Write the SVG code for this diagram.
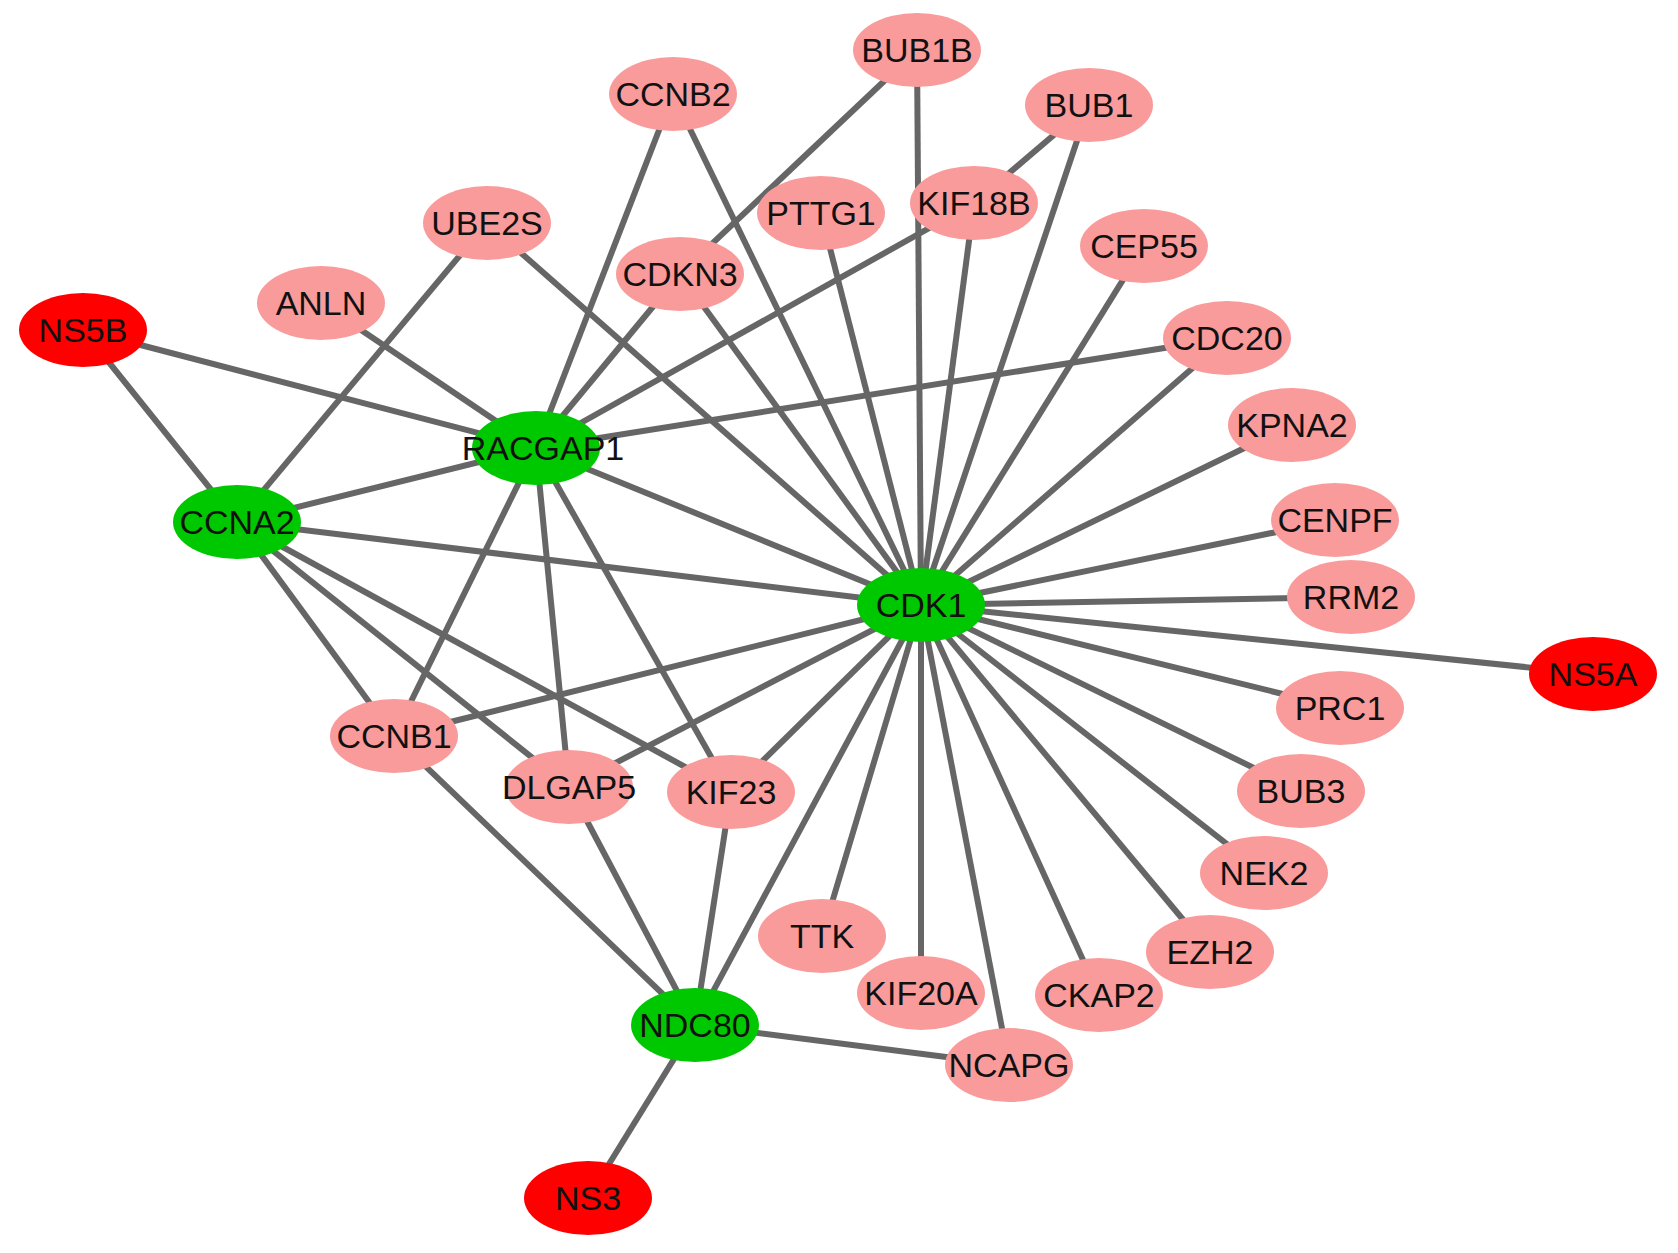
<svg xmlns="http://www.w3.org/2000/svg" width="1678" height="1253" viewBox="0 0 1678 1253">
<style>
.e line{stroke:#666;stroke-width:6;}
.p{fill:#FA9B9B;}
.g{fill:#00C800;}
.r{fill:#FF0000;}
text{font-family:"Liberation Sans",Arial,sans-serif;font-size:34px;fill:#111;text-anchor:middle;}
</style>
<rect width="1678" height="1253" fill="#fff"/>
<g id="edges" class="e">
<line x1="83" y1="330" x2="237" y2="522"/>
<line x1="83" y1="330" x2="536" y2="448"/>
<line x1="321" y1="303" x2="536" y2="448"/>
<line x1="487" y1="223" x2="237" y2="522"/>
<line x1="487" y1="223" x2="921" y2="605"/>
<line x1="673" y1="94" x2="536" y2="448"/>
<line x1="673" y1="94" x2="921" y2="605"/>
<line x1="917" y1="50" x2="680" y2="274"/>
<line x1="917" y1="50" x2="921" y2="605"/>
<line x1="1089" y1="105" x2="974" y2="203"/>
<line x1="1089" y1="105" x2="921" y2="605"/>
<line x1="974" y1="203" x2="536" y2="448"/>
<line x1="974" y1="203" x2="921" y2="605"/>
<line x1="821" y1="213" x2="921" y2="605"/>
<line x1="680" y1="274" x2="536" y2="448"/>
<line x1="680" y1="274" x2="921" y2="605"/>
<line x1="1144" y1="246" x2="921" y2="605"/>
<line x1="1227" y1="338" x2="536" y2="448"/>
<line x1="1227" y1="338" x2="921" y2="605"/>
<line x1="1292" y1="425" x2="921" y2="605"/>
<line x1="1335" y1="520" x2="921" y2="605"/>
<line x1="1351" y1="597" x2="921" y2="605"/>
<line x1="1593" y1="674" x2="921" y2="605"/>
<line x1="1340" y1="708" x2="921" y2="605"/>
<line x1="1301" y1="791" x2="921" y2="605"/>
<line x1="1264" y1="873" x2="921" y2="605"/>
<line x1="1210" y1="952" x2="921" y2="605"/>
<line x1="1099" y1="995" x2="921" y2="605"/>
<line x1="1009" y1="1065" x2="921" y2="605"/>
<line x1="921" y1="993" x2="921" y2="605"/>
<line x1="822" y1="936" x2="921" y2="605"/>
<line x1="695" y1="1025" x2="921" y2="605"/>
<line x1="695" y1="1025" x2="1009" y2="1065"/>
<line x1="695" y1="1025" x2="588" y2="1198"/>
<line x1="695" y1="1025" x2="394" y2="736"/>
<line x1="695" y1="1025" x2="569" y2="787"/>
<line x1="695" y1="1025" x2="731" y2="792"/>
<line x1="731" y1="792" x2="921" y2="605"/>
<line x1="569" y1="787" x2="921" y2="605"/>
<line x1="394" y1="736" x2="921" y2="605"/>
<line x1="237" y1="522" x2="921" y2="605"/>
<line x1="237" y1="522" x2="536" y2="448"/>
<line x1="237" y1="522" x2="394" y2="736"/>
<line x1="237" y1="522" x2="569" y2="787"/>
<line x1="237" y1="522" x2="731" y2="792"/>
<line x1="536" y1="448" x2="394" y2="736"/>
<line x1="536" y1="448" x2="569" y2="787"/>
<line x1="536" y1="448" x2="731" y2="792"/>
<line x1="536" y1="448" x2="921" y2="605"/>
</g>
<g id="NS5B"><ellipse class="r" cx="83" cy="330" rx="64" ry="37"/><text x="83" y="342">NS5B</text></g>
<g id="ANLN"><ellipse class="p" cx="321" cy="303" rx="64" ry="37"/><text x="321" y="315">ANLN</text></g>
<g id="UBE2S"><ellipse class="p" cx="487" cy="223" rx="64" ry="37"/><text x="487" y="235">UBE2S</text></g>
<g id="CCNB2"><ellipse class="p" cx="673" cy="94" rx="64" ry="37"/><text x="673" y="106">CCNB2</text></g>
<g id="CDKN3"><ellipse class="p" cx="680" cy="274" rx="64" ry="37"/><text x="680" y="286">CDKN3</text></g>
<g id="PTTG1"><ellipse class="p" cx="821" cy="213" rx="64" ry="37"/><text x="821" y="225">PTTG1</text></g>
<g id="BUB1B"><ellipse class="p" cx="917" cy="50" rx="64" ry="37"/><text x="917" y="62">BUB1B</text></g>
<g id="BUB1"><ellipse class="p" cx="1089" cy="105" rx="64" ry="37"/><text x="1089" y="117">BUB1</text></g>
<g id="KIF18B"><ellipse class="p" cx="974" cy="203" rx="64" ry="37"/><text x="974" y="215">KIF18B</text></g>
<g id="CEP55"><ellipse class="p" cx="1144" cy="246" rx="64" ry="37"/><text x="1144" y="258">CEP55</text></g>
<g id="CDC20"><ellipse class="p" cx="1227" cy="338" rx="64" ry="37"/><text x="1227" y="350">CDC20</text></g>
<g id="KPNA2"><ellipse class="p" cx="1292" cy="425" rx="64" ry="37"/><text x="1292" y="437">KPNA2</text></g>
<g id="CENPF"><ellipse class="p" cx="1335" cy="520" rx="64" ry="37"/><text x="1335" y="532">CENPF</text></g>
<g id="RRM2"><ellipse class="p" cx="1351" cy="597" rx="64" ry="37"/><text x="1351" y="609">RRM2</text></g>
<g id="NS5A"><ellipse class="r" cx="1593" cy="674" rx="64" ry="37"/><text x="1593" y="686">NS5A</text></g>
<g id="PRC1"><ellipse class="p" cx="1340" cy="708" rx="64" ry="37"/><text x="1340" y="720">PRC1</text></g>
<g id="BUB3"><ellipse class="p" cx="1301" cy="791" rx="64" ry="37"/><text x="1301" y="803">BUB3</text></g>
<g id="NEK2"><ellipse class="p" cx="1264" cy="873" rx="64" ry="37"/><text x="1264" y="885">NEK2</text></g>
<g id="EZH2"><ellipse class="p" cx="1210" cy="952" rx="64" ry="37"/><text x="1210" y="964">EZH2</text></g>
<g id="CKAP2"><ellipse class="p" cx="1099" cy="995" rx="64" ry="37"/><text x="1099" y="1007">CKAP2</text></g>
<g id="KIF20A"><ellipse class="p" cx="921" cy="993" rx="64" ry="37"/><text x="921" y="1005">KIF20A</text></g>
<g id="NCAPG"><ellipse class="p" cx="1009" cy="1065" rx="64" ry="37"/><text x="1009" y="1077">NCAPG</text></g>
<g id="TTK"><ellipse class="p" cx="822" cy="936" rx="64" ry="37"/><text x="822" y="948">TTK</text></g>
<g id="CCNB1"><ellipse class="p" cx="394" cy="736" rx="64" ry="37"/><text x="394" y="748">CCNB1</text></g>
<g id="DLGAP5"><ellipse class="p" cx="569" cy="787" rx="64" ry="37"/><text x="569" y="799">DLGAP5</text></g>
<g id="KIF23"><ellipse class="p" cx="731" cy="792" rx="64" ry="37"/><text x="731" y="804">KIF23</text></g>
<g id="CDK1"><ellipse class="g" cx="921" cy="605" rx="64" ry="37"/><text x="921" y="617">CDK1</text></g>
<g id="RACGAP1"><ellipse class="g" cx="536" cy="448" rx="64" ry="37"/><text x="543" y="460">RACGAP1</text></g>
<g id="CCNA2"><ellipse class="g" cx="237" cy="522" rx="64" ry="37"/><text x="237" y="534">CCNA2</text></g>
<g id="NDC80"><ellipse class="g" cx="695" cy="1025" rx="64" ry="37"/><text x="695" y="1037">NDC80</text></g>
<g id="NS3"><ellipse class="r" cx="588" cy="1198" rx="64" ry="37"/><text x="588" y="1210">NS3</text></g>
</svg>
